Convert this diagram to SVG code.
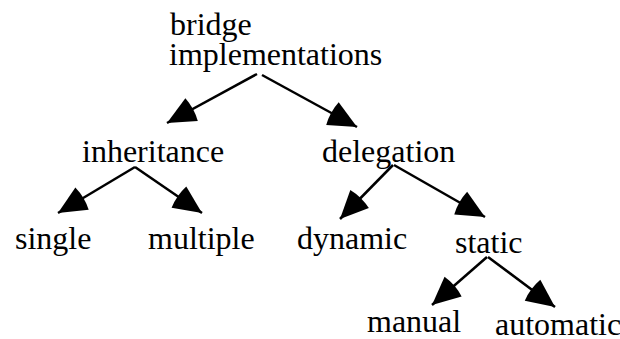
<svg xmlns="http://www.w3.org/2000/svg" width="620" height="339" viewBox="0 0 620 339">
<style>
text { font-family: "Liberation Serif", "Times New Roman", serif; font-size: 32px; fill: #000; }
.edge { stroke: #000; stroke-width: 2.5; fill: none; marker-end: url(#head); }
</style>
<defs>
<marker id="head" markerUnits="userSpaceOnUse" viewBox="-4 -14 34 28" markerWidth="34" markerHeight="28" refX="28" refY="0" orient="auto">
<path d="M0,-13 Q-3,0 0,13 L28,0 Z" fill="#000"/>
</marker>
</defs>
<rect width="620" height="339" fill="#fff"/>
<g id="connectors">
<line class="edge" x1="257" y1="74" x2="167" y2="123"/>
<line class="edge" x1="262" y1="75" x2="357" y2="127"/>
<line class="edge" x1="135" y1="167" x2="58" y2="213"/>
<line class="edge" x1="135" y1="167" x2="202" y2="213"/>
<line class="edge" x1="393" y1="165" x2="340" y2="219"/>
<line class="edge" x1="394" y1="165" x2="485" y2="217"/>
<line class="edge" x1="487" y1="257" x2="432" y2="305"/>
<line class="edge" x1="488" y1="257" x2="555" y2="307"/>
</g>
<g id="bridge"><text x="170" y="35">bridge</text><text x="169" y="65">implementations</text></g>
<g id="inheritance"><text x="82" y="162">inheritance</text></g>
<g id="delegation"><text x="322" y="162">delegation</text></g>
<g id="single"><text x="15" y="249">single</text></g>
<g id="multiple"><text x="148" y="249">multiple</text></g>
<g id="dynamic"><text x="297" y="249">dynamic</text></g>
<g id="static"><text x="455" y="253">static</text></g>
<g id="manual"><text x="367" y="332">manual</text></g>
<g id="automatic"><text x="495" y="335">automatic</text></g>
</svg>
